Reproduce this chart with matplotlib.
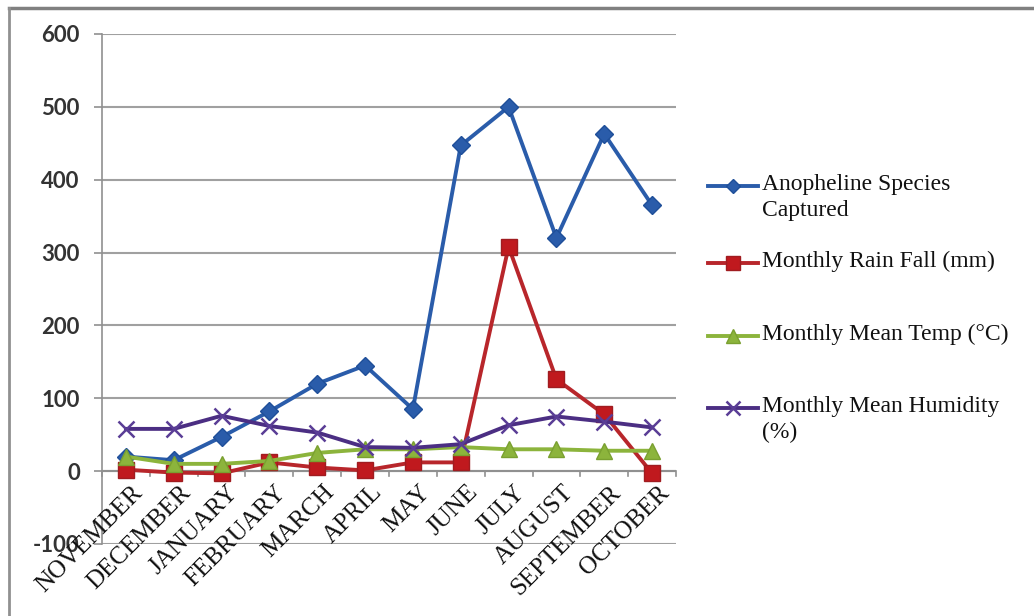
import matplotlib
matplotlib.use("Agg")
import matplotlib.pyplot as plt
from matplotlib.lines import Line2D

months = ["NOVEMBER", "DECEMBER", "JANUARY", "FEBRUARY", "MARCH", "APRIL",
          "MAY", "JUNE", "JULY", "AUGUST", "SEPTEMBER", "OCTOBER"]
anopheline = [20, 15, 47, 82, 120, 145, 85, 447, 500, 320, 463, 365]
rainfall = [2, -2, -3, 12, 5, 1, 12, 12, 308, 126, 78, -3]
temperature = [20, 10, 10, 14, 25, 30, 30, 33, 30, 30, 28, 28]
humidity = [58, 58, 76, 62, 53, 33, 32, 37, 63, 75, 68, 60]

series_labels = ["Anopheline Species\nCaptured", "Monthly Rain Fall (mm)",
                 "Monthly Mean Temp (°C)", "Monthly Mean Humidity\n(%)"]
y_ticks = [-100, 0, 100, 200, 300, 400, 500, 600]

W, H = 1034, 616
fig = plt.figure(figsize=(W / 100, H / 100), dpi=100)
fig.patch.set_facecolor("white")

# outer frame lines (top and left)
fig.add_artist(Line2D([9 / W, 1], [1 - 8 / H, 1 - 8 / H], color="#808080", lw=2.5,
                      transform=fig.transFigure))
fig.add_artist(Line2D([9 / W, 9 / W], [0, 1 - 8 / H], color="#909090", lw=2.0,
                      transform=fig.transFigure))

left, right = 102 / W, 676 / W
bottom, top = 1 - 544 / H, 1 - 34 / H
ax = fig.add_axes([left, bottom, right - left, top - bottom])

x = list(range(len(months)))
styles = [
    dict(color="#2a5caa", marker="D", ms=9, mfc="#2a5caa", mec="#1f4f99"),
    dict(color="#b8262b", marker="s", ms=12, mfc="#c0191e", mec="#a01c20"),
    dict(color="#8cb43c", marker="^", ms=12, mfc="#8cb43c", mec="#7aa030"),
    dict(color="#4b2e83", marker="x", ms=12, mew=1.8, mec="#5a3d96"),
]
series = [anopheline, rainfall, temperature, humidity]
lines = []
for data, st, lab in zip(series, styles, series_labels):
    ln, = ax.plot(x, data, lw=2.8, label=lab, zorder=3, **st)
    lines.append(ln)

ax.set_xlim(-0.5, len(months) - 0.5)
ax.set_ylim(-100, 600)
ax.set_yticks(y_ticks)
ax.set_yticklabels([str(v) for v in y_ticks], fontfamily="Lato", fontsize=16,
                   fontweight="bold", color="#333333")
ax.tick_params(axis="y", length=6, color="#909090", width=1.2, pad=10)
ax.yaxis.grid(True, color="#a0a0a0", lw=1.5)
ax.set_axisbelow(True)
for s in ["top", "right", "bottom"]:
    ax.spines[s].set_visible(False)
ax.spines["left"].set_color("#909090")
ax.spines["left"].set_linewidth(1.2)

# category axis at zero with boundary tick marks
ax.set_xticks([])
ax.axhline(0, color="#909090", lw=1.5, zorder=2)
for b in [i - 0.5 for i in range(len(months) + 1)]:
    ax.plot([b, b], [0, -7], color="#909090", lw=1.2, zorder=2, clip_on=False)
for i, m in enumerate(months):
    ax.text(i + 0.12, -14, m, rotation=45, rotation_mode="anchor", ha="right",
            va="top", fontfamily="Liberation Serif", fontsize=18,
            color="#111111")

# legend drawn beside the plot area
leg_y = [186, 263, 336, 408]
for ln, yy, lab in zip(lines, leg_y, series_labels):
    yf = 1 - yy / H
    fig.add_artist(Line2D([708 / W, 758 / W], [yf, yf], color=ln.get_color(),
                          lw=2.8, transform=fig.transFigure))
    fig.add_artist(Line2D([733 / W], [yf], color=ln.get_color(), marker=ln.get_marker(),
                          ms=ln.get_markersize() * 0.8, mfc=ln.get_markerfacecolor(),
                          mec=ln.get_markeredgecolor(), mew=ln.get_markeredgewidth(),
                          transform=fig.transFigure))
    fig.text(762 / W, yf + 12 / H, lab, ha="left", va="top",
             fontfamily="Liberation Serif", fontsize=17, color="#111111",
             linespacing=1.3)

fig.savefig("out.png", dpi=100, facecolor="white")
